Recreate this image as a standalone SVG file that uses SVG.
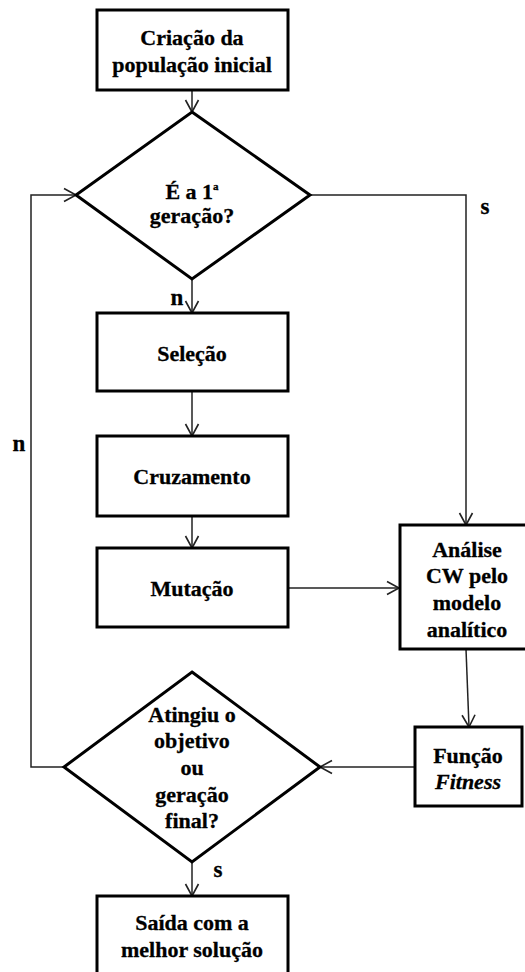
<svg xmlns="http://www.w3.org/2000/svg" width="525" height="972" viewBox="0 0 525 972">
<style>
.box{fill:#fff;stroke:#000;stroke-width:3}
.con{fill:none;stroke:#222;stroke-width:1.5}
text{font-family:"Liberation Serif","Times New Roman",serif;font-weight:bold;font-size:22px;fill:#000;text-anchor:middle;stroke:#000;stroke-width:0.3}
.lbl{font-size:23px}
</style>
<defs>
<marker id="arr" markerUnits="userSpaceOnUse" markerWidth="16" markerHeight="16" viewBox="0 0 16 16" refX="13" refY="8" orient="auto">
<path d="M1,1.5 L13,8 L1,14.5" fill="none" stroke="#222" stroke-width="1.6"/>
</marker>
</defs>
<rect width="525" height="972" fill="#fff"/>
<g id="connectors">
<path class="con" d="M192,90 V112" marker-end="url(#arr)"/>
<path class="con" d="M192,279 V313" marker-end="url(#arr)"/>
<path class="con" d="M192,391 V436" marker-end="url(#arr)"/>
<path class="con" d="M192,516 V548" marker-end="url(#arr)"/>
<path class="con" d="M288,588 H399" marker-end="url(#arr)"/>
<path class="con" d="M310,195 H466 V525" marker-end="url(#arr)"/>
<path class="con" d="M466,649 L469,727" marker-end="url(#arr)"/>
<path class="con" d="M415,767 H320" marker-end="url(#arr)"/>
<path class="con" d="M64,767 H31 V195 H76" marker-end="url(#arr)"/>
<path class="con" d="M192,862 V896" marker-end="url(#arr)"/>
<text class="lbl" x="485" y="214">s</text>
<text class="lbl" x="177" y="305">n</text>
<text class="lbl" x="19" y="451">n</text>
<text class="lbl" x="218" y="877">s</text>
</g>
<g id="inicio">
<rect class="box" x="97" y="10" width="191" height="80"/>
<text x="192" y="45">Criação da</text>
<text x="192" y="72">população inicial</text>
</g>
<g id="decisao1">
<path class="box" d="M192,112 L310,195 L192,279 L76,195 Z"/>
<text x="192" y="199">É a 1<tspan font-size="11" dy="-9">a</tspan></text>
<text x="192" y="223">geração?</text>
</g>
<g id="selecao">
<rect class="box" x="97" y="313" width="191" height="78"/>
<text x="192" y="361">Seleção</text>
</g>
<g id="cruzamento">
<rect class="box" x="97" y="436" width="191" height="80"/>
<text x="192" y="484">Cruzamento</text>
</g>
<g id="mutacao">
<rect class="box" x="97" y="548" width="191" height="79"/>
<text x="192" y="596">Mutação</text>
</g>
<g id="analise">
<rect class="box" x="400" y="525" width="130" height="124"/>
<text x="467" y="557">Análise</text>
<text x="467" y="583">CW pelo</text>
<text x="467" y="610">modelo</text>
<text x="467" y="637">analítico</text>
</g>
<g id="funcao">
<rect class="box" x="415" y="727" width="107" height="79"/>
<text x="468" y="763">Função</text>
<text x="468" y="789" font-style="italic">Fitness</text>
</g>
<g id="decisao2">
<path class="box" d="M192,672 L320,767 L192,862 L64,767 Z"/>
<text x="192" y="722">Atingiu o</text>
<text x="192" y="748">objetivo</text>
<text x="192" y="775">ou</text>
<text x="192" y="802">geração</text>
<text x="192" y="828">final?</text>
</g>
<g id="saida">
<rect class="box" x="97" y="896" width="191" height="90"/>
<text x="192" y="930">Saída com a</text>
<text x="192" y="957">melhor solução</text>
</g>
</svg>
